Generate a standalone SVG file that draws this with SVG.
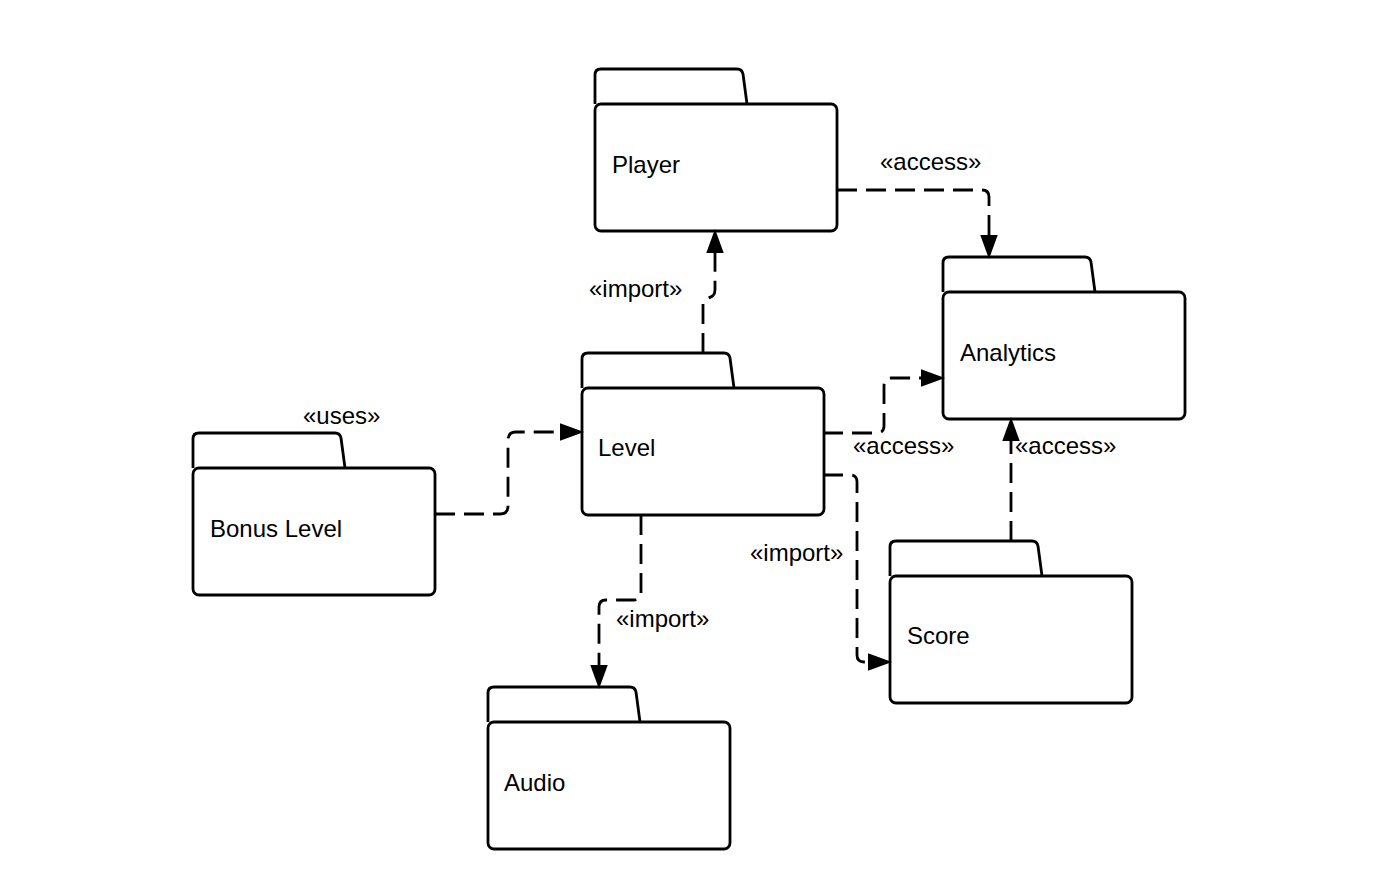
<svg xmlns="http://www.w3.org/2000/svg" width="1378" height="878" viewBox="0 0 1378 878">
<style>
.ps path,.ps rect{fill:#fff;stroke:#000;stroke-width:2.8;stroke-linejoin:round}
.lbl{font-family:"Liberation Sans",Arial,sans-serif;font-size:24px;fill:#000}
.con path{fill:none;stroke:#000;stroke-width:2.8;stroke-dasharray:20 9}
</style>
<defs>
<marker id="arr" markerUnits="userSpaceOnUse" markerWidth="24" markerHeight="18" refX="0" refY="8" orient="auto" viewBox="0 0 22 16">
<path d="M0,0 L22,8 L0,16 z" fill="#000"/>
</marker>
<g id="pkgShape" class="ps">
<path d="M0,35 V6 Q0,0 6,0 H142 Q147,0 148,5 L152,35"/>
<rect x="0" y="35" width="242" height="127" rx="6"/>
</g>
</defs>
<rect width="1378" height="878" fill="#fff"/>
<g id="player" class="pkg" transform="translate(595,69)"><use href="#pkgShape"/><text class="lbl" x="17" y="104">Player</text></g>
<g id="analytics" class="pkg" transform="translate(943,257)"><use href="#pkgShape"/><text class="lbl" x="17" y="104">Analytics</text></g>
<g id="level" class="pkg" transform="translate(582,353)"><use href="#pkgShape"/><text class="lbl" x="16" y="103">Level</text></g>
<g id="bonus" class="pkg" transform="translate(193,433)"><use href="#pkgShape"/><text class="lbl" x="17" y="104">Bonus Level</text></g>
<g id="score" class="pkg" transform="translate(890,541)"><use href="#pkgShape"/><text class="lbl" x="17" y="103">Score</text></g>
<g id="audio" class="pkg" transform="translate(488,687)"><use href="#pkgShape"/><text class="lbl" x="16" y="104">Audio</text></g>
<g id="connectors" class="con">
<path d="M703,353 V304 C703,296 715,300 715,290 V253" marker-end="url(#arr)"/>
<path d="M837,190 H982 Q989,190 989,197 V235" marker-end="url(#arr)"/>
<path d="M435,514 H500 Q508,514 508,506 V440 Q508,432 516,432 H560" marker-end="url(#arr)"/>
<path d="M823,433 H877 Q884,433 884,426 V386 Q884,378 891,378 H921" marker-end="url(#arr)"/>
<path d="M823,475 H850 Q857,475 857,482 V655 Q857,662 864,662 H868" marker-end="url(#arr)"/>
<path d="M1011,541 V441" marker-end="url(#arr)"/>
<path d="M641,515 V593 Q641,600 634,600 H606 Q599,600 599,607 V665" marker-end="url(#arr)"/>
<text class="lbl" x="880" y="170">«access»</text>
<text class="lbl" x="589" y="297">«import»</text>
<text class="lbl" x="303" y="424">«uses»</text>
<text class="lbl" x="853" y="454">«access»</text>
<text class="lbl" x="1015" y="454">«access»</text>
<text class="lbl" x="750" y="561">«import»</text>
<text class="lbl" x="616" y="627">«import»</text>
</g>
</svg>
